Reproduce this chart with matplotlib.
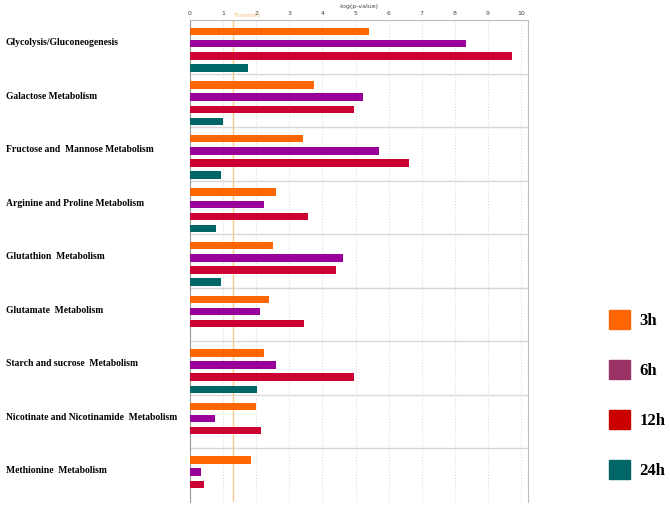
import numpy as np
import matplotlib
matplotlib.use('Agg')
import matplotlib.pyplot as plt
from matplotlib.patches import Patch

pathways = ['Glycolysis/Gluconeogenesis', 'Galactose Metabolism',
            'Fructose and  Mannose Metabolism', 'Arginine and Proline Metabolism',
            'Glutathion  Metabolism', 'Glutamate  Metabolism',
            'Starch and sucrose  Metabolism', 'Nicotinate and Nicotinamide  Metabolism',
            'Methionine  Metabolism']
times = ['3h', '6h', '12h', '24h']
vals_3h = [5.41, 3.75, 3.41, 2.60, 2.51, 2.39, 2.24, 1.99, 1.84]
vals_6h = [8.34, 5.23, 5.71, 2.24, 4.62, 2.11, 2.60, 0.76, 0.33]
vals_12h = [9.73, 4.95, 6.62, 3.56, 4.41, 3.44, 4.95, 2.14, 0.42]
vals_24h = [1.75, 1.00, 0.94, 0.79, 0.94, 0, 2.02, 0, 0]
threshold = 1.3

bar_colors = ['#FF6600', '#990099', '#CC0033', '#006666']
legend_colors = ['#FF6600', '#993366', '#CC0000', '#006666']

fig = plt.figure(figsize=(6.7, 5.08), dpi=100)
ax = fig.add_axes([0.2836, 0.0118, 0.5045, 0.9488])

series = [vals_3h, vals_6h, vals_12h, vals_24h]
n = len(pathways)
for k, vals in enumerate(series):
    y = np.arange(n) + 0.215 + k*0.227
    v = np.array(vals)
    ax.barh(y[v > 0], v[v > 0], height=0.14, color=bar_colors[k], zorder=3)

for i in range(1, n):
    ax.axhline(i, color='#d8d8d8', lw=1, zorder=1)

for i, name in enumerate(pathways):
    ax.text(-0.545, i + 0.42, name, transform=ax.get_yaxis_transform(),
            fontsize=6.9, fontweight='bold', family='Liberation Serif', va='center', ha='left')

ax.axvline(threshold, color='#F8C98A', lw=1, zorder=2)
ax.text(threshold, -0.08, 'Threshold', color='#F5C27A', fontsize=4, va='center', ha='left')

ax.set_xlim(0, 10.21)
ax.set_ylim(n, 0)
ax.set_xticks(range(11))
ax.set_yticks([])
ax.xaxis.tick_top()
ax.xaxis.set_label_position('top')
ax.set_xlabel('-log(p-value)', fontsize=4.5, color='#444444', labelpad=2)
ax.tick_params(axis='x', labelsize=4.5, length=0, pad=3, colors='#444444')
ax.grid(axis='x', color='#dddddd', ls=':', lw=0.8, zorder=0)
for s in ['left', 'top', 'right']:
    ax.spines[s].set_color('#bbbbbb')
ax.spines['left'].set_color('#999999')
ax.spines['bottom'].set_visible(False)

handles = [Patch(facecolor=c, edgecolor=c) for c in legend_colors]
fig.legend(handles, times, loc='upper left', bbox_to_anchor=(0.886, 0.42), frameon=False,
           prop={'family': 'Liberation Serif', 'weight': 'bold', 'size': 12},
           handlelength=1.3, handleheight=1.4, labelspacing=1.85, handletextpad=0.55)

fig.savefig('out.png', dpi=100)
